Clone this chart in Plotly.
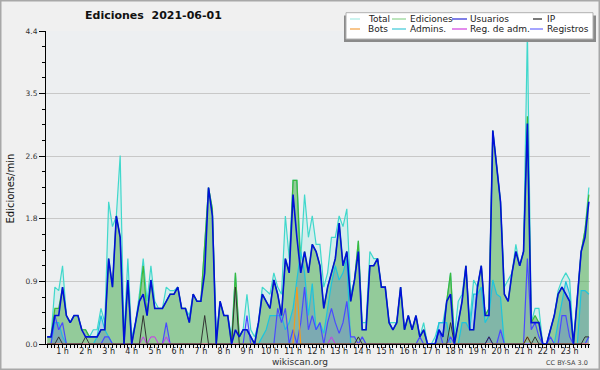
import plotly.graph_objects as go

# ---------------- data (10-minute buckets, 00:20 .. 23:50, edits per minute) -------------
minutes = list(range(20, 1440, 10))
x_hours = [m / 60 for m in minutes]

hour_ticks = list(range(1, 24))
hour_labels = [f"{h} h" for h in hour_ticks]
y_ticks = [0, 0.88, 1.76, 2.64, 3.52, 4.4]
y_labels = ["0.0", "0.9", "1.8", "2.6", "3.5", "4.4"]

total = (
    [0.1, 0.1, 0.8, 0.75]
    + [1.1, 0.4, 0.3, 0.4, 0.4, 0.2]
    + [0.2, 0.1, 0.2, 0.2, 0.5, 0.3]
    + [2.0, 1.65, 1.8, 2.65, 0.1, 1.2]
    + [0.1, 0.3, 0.7, 1.2, 0.6, 1.1]
    + [0.6, 0.5, 0.5, 0.8, 0.75, 0.75]
    + [0.8, 0.5, 0.5, 0.4, 0.7, 0.6]
    + [0.6, 1.4, 2.2, 1.9, 0.1, 0.6]
    + [0.4, 0.4, 0.1, 1.0, 0.1, 0.2]
    + [0.7, 0.2, 0.1, 0.3, 0.8, 0.75]
    + [0.7, 1.0, 0.8, 0.7, 1.8, 1.2]
    + [2.3, 2.3, 1.2, 2.1, 1.5, 1.8]
    + [1.4, 1.4, 0.8, 1.0, 1.5, 1.5]
    + [1.8, 1.65, 1.9, 0.7, 0.9, 1.45]
    + [0.3, 0.3, 1.3, 1.2, 1.2, 0.8]
    + [0.8, 0.3, 0.3, 0.3, 0.8, 0.2]
    + [0.4, 0.2, 0.4, 0.1, 0.3, 0.0]
    + [0.0, 0.1, 0.3, 0.3, 0.6, 1.0]
    + [0.1, 0.6, 0.7, 1.1, 0.3, 0.9]
    + [0.8, 1.1, 0.4, 0.5, 3.0, 2.5]
    + [2.0, 0.8, 0.9, 1.0, 1.4, 1.1]
    + [1.3, 4.4, 0.3, 0.5, 0.5, 0.0]
    + [0.0, 0.2, 0.4, 0.75, 0.9, 1.0]
    + [0.9, 0.0, 0.6, 1.3, 1.6, 2.2]
)

ediciones = (
    [0.1, 0.1, 0.5, 0.5]
    + [0.8, 0.4, 0.3, 0.4, 0.4, 0.2]
    + [0.2, 0.1, 0.1, 0.1, 0.2, 0.2]
    + [1.2, 0.8, 1.8, 1.5, 0.0, 0.9]
    + [0.0, 0.3, 0.6, 1.1, 0.4, 0.9]
    + [0.5, 0.5, 0.5, 0.6, 0.7, 0.7]
    + [0.8, 0.5, 0.5, 0.3, 0.7, 0.6]
    + [0.6, 1.4, 2.2, 1.9, 0.0, 0.6]
    + [0.4, 0.4, 0.0, 1.0, 0.1, 0.2]
    + [0.2, 0.1, 0.0, 0.3, 0.7, 0.6]
    + [0.5, 0.9, 0.7, 0.4, 1.2, 1.0]
    + [2.3, 2.3, 1.0, 1.3, 1.0, 1.4]
    + [1.3, 1.1, 0.5, 0.8, 1.0, 1.2]
    + [1.7, 1.1, 1.3, 0.6, 0.9, 1.45]
    + [0.2, 0.2, 1.1, 1.1, 1.2, 0.8]
    + [0.8, 0.3, 0.2, 0.3, 0.8, 0.2]
    + [0.4, 0.2, 0.4, 0.1, 0.2, 0.0]
    + [0.0, 0.0, 0.2, 0.1, 0.6, 1.0]
    + [0.0, 0.3, 0.6, 1.1, 0.2, 0.2]
    + [0.8, 1.1, 0.4, 0.5, 3.0, 2.5]
    + [2.0, 0.7, 0.6, 1.0, 1.3, 1.1]
    + [1.3, 3.2, 0.3, 0.4, 0.3, 0.0]
    + [0.0, 0.2, 0.4, 0.7, 0.8, 0.7]
    + [0.6, 0.0, 0.6, 1.3, 1.6, 2.1]
)

usuarios = (
    [0.1, 0.1, 0.4, 0.4]
    + [0.8, 0.4, 0.3, 0.4, 0.4, 0.2]
    + [0.1, 0.1, 0.1, 0.1, 0.2, 0.2]
    + [1.2, 0.8, 1.8, 1.5, 0.0, 0.9]
    + [0.0, 0.3, 0.6, 0.7, 0.4, 0.9]
    + [0.5, 0.5, 0.5, 0.6, 0.7, 0.7]
    + [0.8, 0.5, 0.5, 0.3, 0.7, 0.6]
    + [0.6, 1.0, 2.2, 1.8, 0.0, 0.6]
    + [0.4, 0.4, 0.0, 0.2, 0.1, 0.2]
    + [0.2, 0.1, 0.0, 0.3, 0.7, 0.6]
    + [0.5, 0.9, 0.7, 0.4, 1.2, 1.0]
    + [2.1, 1.5, 1.0, 1.3, 1.0, 1.4]
    + [1.3, 1.1, 0.5, 0.8, 1.0, 1.2]
    + [1.7, 1.1, 1.3, 0.6, 0.9, 1.3]
    + [0.2, 0.2, 1.1, 1.1, 1.2, 0.8]
    + [0.8, 0.3, 0.2, 0.3, 0.8, 0.2]
    + [0.4, 0.2, 0.4, 0.1, 0.2, 0.0]
    + [0.0, 0.0, 0.2, 0.1, 0.6, 0.7]
    + [0.0, 0.3, 0.6, 1.1, 0.2, 0.2]
    + [0.8, 1.1, 0.4, 0.4, 3.0, 2.5]
    + [2.0, 0.7, 0.6, 1.0, 1.3, 1.1]
    + [1.3, 3.1, 0.3, 0.3, 0.3, 0.0]
    + [0.0, 0.2, 0.4, 0.7, 0.8, 0.7]
    + [0.6, 0.0, 0.6, 1.3, 1.5, 2.0]
)

ip = (
    [0, 0, 0, 0.1]
    + [0, 0, 0, 0, 0, 0]
    + [0.1, 0, 0, 0, 0, 0]
    + [0, 0, 0, 0, 0, 0]
    + [0, 0, 0, 0.4, 0, 0]
    + [0, 0, 0, 0, 0, 0]
    + [0, 0, 0, 0, 0, 0]
    + [0, 0.4, 0, 0, 0, 0]
    + [0, 0, 0, 0.8, 0, 0]
    + [0, 0, 0, 0, 0, 0]
    + [0, 0, 0, 0, 0, 0]
    + [0, 0, 0, 0, 0, 0]
    + [0, 0, 0, 0, 0, 0]
    + [0, 0, 0, 0, 0, 0.1]
    + [0, 0, 0, 0, 0, 0]
    + [0, 0, 0, 0, 0, 0]
    + [0, 0, 0, 0, 0, 0]
    + [0, 0, 0, 0, 0, 0.3]
    + [0, 0, 0, 0, 0, 0]
    + [0, 0, 0, 0.1, 0, 0]
    + [0, 0, 0, 0, 0, 0]
    + [0, 0.1, 0, 0.1, 0, 0]
    + [0, 0, 0, 0, 0, 0]
    + [0, 0, 0, 0, 0.1, 0.1]
)

bots = [0.0] * 4 + [0.0] * 60 + [0, 0.8, 0, 0, 0, 0] + [0.0] * 54 + [0, 0.1, 0, 0, 0, 0] + [0.0] * 12

admins = (
    [0, 0, 0.3, 0.3]
    + [0.1, 0, 0, 0, 0, 0]
    + [0, 0, 0, 0.1, 0.4, 0.2]
    + [0.1, 0, 0, 0, 0, 0]
    + [0, 0, 0, 0, 0, 0]
    + [0, 0, 0, 0, 0, 0]
    + [0, 0, 0, 0, 0, 0]
    + [0, 0, 0, 0, 0, 0]
    + [0, 0, 0, 0, 0, 0]
    + [0, 0, 0, 0, 0.1, 0.2]
    + [0.4, 0.4, 0.4, 0.4, 0.2, 0.3]
    + [0.5, 0.9, 1.3, 1.0, 0.4, 0.85]
    + [0.2, 0.3, 0.15, 0.5, 0.85, 1.1]
    + [0.9, 1.0, 1.2, 0.0, 0.0, 0.0]
    + [0, 0, 0, 0, 0, 0]
    + [0, 0, 0, 0, 0, 0]
    + [0, 0, 0, 0, 0, 0]
    + [0, 0, 0.3, 0.3, 0.3, 0.0]
    + [0, 0, 0.3, 0.3, 0.2, 0.7]
    + [0.7, 0.8, 0.3, 0.4, 0.9, 0.7]
    + [0.66, 0, 0, 0, 0, 0]
    + [0, 0, 0, 0, 0, 0]
    + [0, 0, 0, 0.3, 0.6, 0.88]
    + [0.7, 0, 0, 0.75, 0.75, 0.7]
)

reg_adm = [0.0] * 25 + [0.1, 0, 0.1, 0.1, 0, 0, 0.1] + [0.0] * 42 + [0.1] + [0.0] * 67

registros = (
    [0, 0, 0.4, 0.2]
    + [0.3, 0, 0, 0, 0, 0]
    + [0, 0, 0, 0, 0, 0.1]
    + [0.1, 0, 0, 0, 0, 0]
    + [0, 0, 0, 0, 0, 0]
    + [0, 0, 0, 0.3, 0, 0]
    + [0, 0, 0, 0, 0, 0]
    + [0, 0, 0, 0, 0, 0]
    + [0, 0, 0, 0, 0, 0]
    + [0.4, 0, 0, 0, 0, 0]
    + [0, 0, 0.5, 0.3, 0.5, 0.0]
    + [0.2, 0.0, 0.3, 0.8, 0.2, 0.4]
    + [0.2, 0.3, 0.0, 0.3, 0.5, 0.3]
    + [0.15, 0.3, 0.6, 0.1, 0.1, 0.0]
    + [0.1, 0, 0, 0, 0, 0]
    + [0, 0, 0, 0, 0, 0]
    + [0, 0, 0, 0.1, 0, 0]
    + [0, 0, 0.2, 0, 0, 0.1]
    + [0, 0, 0, 0, 0, 0]
    + [0, 0, 0, 0.1, 0, 0]
    + [0.2, 0, 0, 0, 0, 0]
    + [0, 1.2, 0.2, 0.3, 0.1, 0]
    + [0, 0.1, 0, 0, 0.4, 0.4]
    + [0.1, 0, 0, 0, 0, 0.1]
)

# ---------------- figure ----------------
W, H = 600, 370
ML, MR, MT, MB = 46, 10, 31, 26
PW, PH = W - ML - MR, H - MT - MB
FONT = "DejaVu Sans"


def px(x):
    return (x - ML) / PW


def py(y):
    return (H - MB - y) / PH


fig = go.Figure()


def add(y, name, color, width, fill=None, fillcolor=None):
    fig.add_trace(go.Scatter(
        x=x_hours, y=y, name=name, mode="lines",
        line=dict(color=color, width=width),
        fill=fill, fillcolor=fillcolor, showlegend=False, hoverinfo="skip",
    ))


add(total, "Total", "#40d8cc", 1.2, "tozeroy", "rgba(64,224,208,0.14)")
add(ediciones, "Ediciones", "#3cb83c", 1.2, "tozeroy", "rgba(82,169,71,0.5)")
add(admins, "Admins.", "#1ec4dc", 1.2, "tozeroy", "rgba(70,110,220,0.22)")
add(registros, "Registros", "#4a4aff", 1.2, "tozeroy", "rgba(90,90,255,0.12)")
add(reg_adm, "Reg. de adm.", "#cc33ee", 1.0)
add(bots, "Bots", "#f39a1e", 1.2)
add(ip, "IP", "#333333", 1.0)
add(usuarios, "Usuarios", "#0010d8", 1.6)

shapes = []
annotations = []

# outer frame
shapes.append(dict(type="rect", xref="paper", yref="paper",
                   x0=px(0.75), x1=px(W - 0.75), y0=py(0.75), y1=py(H - 0.75),
                   line=dict(color="#a8a8a8", width=1.5), fillcolor="rgba(0,0,0,0)", layer="above"))

# legend box with shadow
shapes.append(dict(type="rect", xref="paper", yref="paper",
                   x0=px(344), x1=px(596), y0=py(15.5), y1=py(42),
                   line=dict(width=0), fillcolor="#8a8a8a", layer="above"))
shapes.append(dict(type="rect", xref="paper", yref="paper",
                   x0=px(346), x1=px(593), y0=py(12.7), y1=py(39),
                   line=dict(color="#b0b0b0", width=1), fillcolor="#ffffff", layer="above"))

legend_items = [
    ("Total", "#a8ece4", 350, 360, 366, 19),
    ("Ediciones", "#8fd48f", 392, 406, 408, 19),
    ("Usuarios", "#2a2ad8", 452, 467, 468, 19),
    ("IP", "#222222", 533, 542, 545, 19),
    ("Bots", "#f4a040", 350, 360, 366, 29),
    ("Admins.", "#3cc8d8", 392, 406, 408, 29),
    ("Reg. de adm.", "#d040e0", 452, 467, 468, 29),
    ("Registros", "#6a6aff", 530, 543, 545, 29),
]
for name, col, s0, s1, tx, ty in legend_items:
    shapes.append(dict(type="line", xref="paper", yref="paper",
                       x0=px(s0), x1=px(s1), y0=py(ty), y1=py(ty),
                       line=dict(color=col, width=1.2), layer="above"))
    annotations.append(dict(text=name, xref="paper", yref="paper", x=px(tx), y=py(ty),
                            xanchor="left", yanchor="middle", showarrow=False,
                            font=dict(family=FONT, size=9, color="#222222")))

annotations += [
    dict(text="Ediciones\u00a0\u00a02021-06-01", xref="paper", yref="paper",
         x=px(153.5), y=py(16), xanchor="center", yanchor="middle", showarrow=False,
         font=dict(family=FONT, size=11, color="#111111", weight="bold")),
    dict(text="Ediciones/min", xref="paper", yref="paper", x=px(9.5), y=py(189),
         xanchor="center", yanchor="middle", textangle=-90, showarrow=False,
         font=dict(family=FONT, size=10, color="#111111")),
    dict(text="wikiscan.org", xref="paper", yref="paper", x=px(300), y=py(362),
         xanchor="center", yanchor="middle", showarrow=False,
         font=dict(family=FONT, size=9, color="#333333")),
    dict(text="CC BY-SA 3.0", xref="paper", yref="paper", x=px(590), y=py(362.5),
         xanchor="right", yanchor="middle", showarrow=False,
         font=dict(family=FONT, size=6.5, color="#444444")),
]

fig.update_layout(
    width=W, height=H,
    margin=dict(l=ML, r=MR, t=MT, b=MB, pad=0),
    paper_bgcolor="#f0f0f0",
    plot_bgcolor="#edeff1",
    showlegend=False,
    shapes=shapes,
    annotations=annotations,
    xaxis=dict(
        range=[0.282, 23.883], tickmode="array", tickvals=hour_ticks, ticktext=hour_labels,
        ticks="outside", ticklen=3, tickwidth=1, tickcolor="#000000",
        ticklabelstandoff=-4,
        showline=True, linecolor="#000000", linewidth=1, showgrid=False, zeroline=False,
        tickfont=dict(family=FONT, size=8, color="#222222"),
        minor=dict(dtick=1 / 6, tick0=0, ticks="outside", ticklen=3, tickcolor="#000000", showgrid=False),
    ),
    yaxis=dict(
        range=[0, 4.4], tickmode="array", tickvals=y_ticks, ticktext=y_labels,
        ticks="outside", ticklen=6, tickwidth=1, tickcolor="#000000",
        showline=True, linecolor="#000000", linewidth=1,
        showgrid=True, gridcolor="#c8c8c8", gridwidth=1, zeroline=False,
        tickfont=dict(family=FONT, size=7.5, color="#333333"),
        minor=dict(dtick=0.22, tick0=0, ticks="outside", ticklen=3, tickcolor="#000000", showgrid=False),
    ),
)

fig.write_html("out.html", config={"displayModeBar": False},
               post_script="document.body.style.margin='0px';document.body.style.overflow='hidden';")
